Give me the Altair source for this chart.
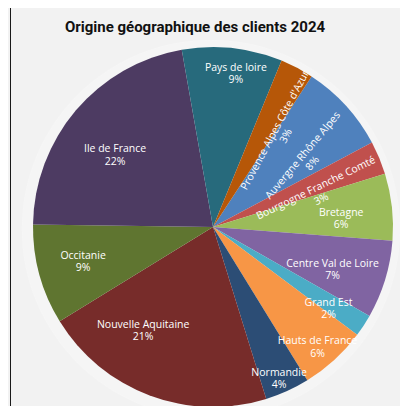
import math
import altair as alt
import pandas as pd

# ---- data ----
regions = [
    "Auvergne Rhône Alpes", "Bourgogne Franche Comté", "Bretagne",
    "Centre Val de Loire", "Grand Est", "Hauts de France", "Normandie",
    "Nouvelle Aquitaine", "Occitanie", "Ile de France", "Pays de loire",
    "Provence Alpes Côte d'Azur",
]
percent = [8, 3, 6, 7, 2, 6, 4, 21, 9, 22, 9, 3]
title_text = "Origine géographique des clients 2024"

# ---- styles / layout ----
colors = ["#4F81BD", "#C0504D", "#9BBB59", "#8064A2", "#4BACC6", "#F79646",
          "#2C4D75", "#772C2A", "#5F7530", "#4D3B62", "#276A7C", "#B65708"]
label_radius = [115, 110, 129, 125, 138, 155, 160, 120, 133, 125, 161, 115]
label_shift_deg = [4, 2, 0, 0, 0, 0, 0, 15, 3, -2, 2, 5]
label_rotation = [310, 334, 0, 0, 0, 0, 0, 0, 0, 0, 0, 298]

start_deg = 33.2
start = math.radians(start_deg)
CX, CY, R = 205, 179, 180
W, H = 392, 358

total = sum(percent)
cum = 0
mids = []
for p in percent:
    mids.append(cum + p / 2)
    cum += p

df = pd.DataFrame({
    "region": regions,
    "value": percent,
    "idx": list(range(len(regions))),
    "label": [f"{r}\n{p}%" for r, p in zip(regions, percent)],
    "lt": [m + s * total / 360 for m, s in zip(mids, label_shift_deg)],
    "lr": label_radius,
    "rot": label_rotation,
})

theta_range = [start, start + 2 * math.pi]

shadow_df = pd.DataFrame({"r": [189, 186, 183], "o": [0.04, 0.05, 0.07]})
shadow = alt.Chart(shadow_df).mark_arc(theta=0, theta2=2 * math.pi, color="#000000").encode(
    x=alt.value(CX - 2),
    y=alt.value(CY + 2),
    radius=alt.Radius("r:Q", scale=None),
    opacity=alt.Opacity("o:Q", scale=None),
)

pie = alt.Chart(df).mark_arc(stroke=None).encode(
    theta=alt.Theta("value:Q", stack=True, scale=alt.Scale(range=theta_range)),
    color=alt.Color("region:N", scale=alt.Scale(domain=regions, range=colors), legend=None),
    order=alt.Order("idx:Q"),
    x=alt.value(CX),
    y=alt.value(CY),
    radius=alt.value(R),
)

labels = alt.Chart(df).mark_text(
    font="Open Sans", fontSize=10.5, color="#ffffff", lineBreak="\n",
    lineHeight=12.5, align="center", baseline="middle",
).encode(
    theta=alt.Theta("lt:Q", stack=None, scale=alt.Scale(domain=[0, total], range=theta_range)),
    radius=alt.Radius("lr:Q", scale=None),
    angle=alt.Angle("rot:Q", scale=None),
    text="label:N",
    x=alt.value(CX),
    y=alt.value(CY),
)

title_df = pd.DataFrame({"t": [title_text]})
title = alt.Chart(title_df).mark_text(
    font="Roboto", fontSize=15, fontWeight="bold", color="#111111",
    align="center", baseline="alphabetic",
).encode(text="t:N", x=alt.value(187), y=alt.value(-16))

frame_df = pd.DataFrame({"k": [0]})
frame_left = alt.Chart(frame_df).mark_rule(color="#1a1a1a", strokeWidth=1).encode(
    x=alt.value(2.5), y=alt.value(-40.5), y2=alt.value(H + 20),
)
frame_top = alt.Chart(frame_df).mark_rule(color="#1a1a1a", strokeWidth=1).encode(
    x=alt.value(2.5), x2=alt.value(W + 20), y=alt.value(-40.5),
)

chart = alt.layer(shadow, pie, labels, title, frame_left, frame_top).properties(
    width=W,
    height=H,
    autosize=alt.AutoSizeParams(type="none"),
    padding={"left": 0, "top": 40, "right": 0, "bottom": 0},
).configure_view(stroke=None)

chart.save("out.html", embed_options={"renderer": "svg", "actions": False})
